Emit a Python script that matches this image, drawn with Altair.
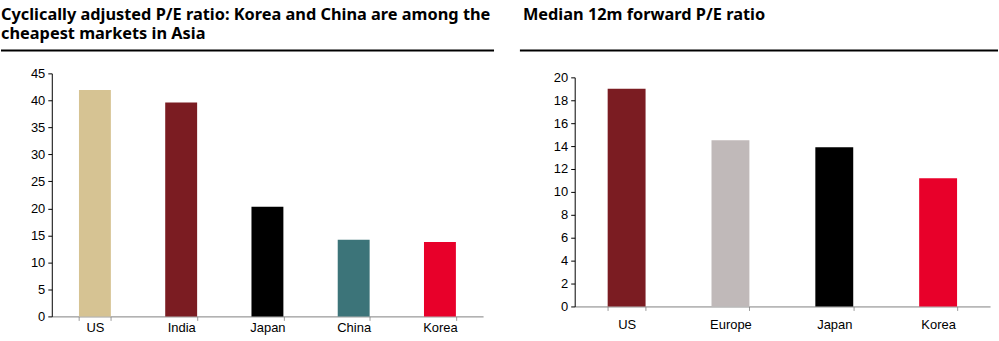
import altair as alt
import pandas as pd

left_cats = ["US", "India", "Japan", "China", "Korea"]
left_vals = [41.9, 39.6, 20.3, 14.2, 13.8]
left_colors = ["#D6C393", "#7B1C22", "#000000", "#3C7479", "#E8002A"]

right_cats = ["US", "Europe", "Japan", "Korea"]
right_vals = [19.0, 14.5, 13.9, 11.2]
right_colors = ["#7B1C22", "#C0B9B9", "#000000", "#E8002A"]

left_title = ["Cyclically adjusted P/E ratio: Korea and China are among the",
              "cheapest markets in Asia"]
right_title = ["Median 12m forward P/E ratio"]

TITLE_FONT = "Noto Sans"
AXIS_FONT = "Liberation Sans"


def panel(cats, vals, colors, title_lines, ymax, ystep, width, height, yrange,
          title_dx, rule_x, rule_x2, pad, xlabpad):
    df = pd.DataFrame({"cat": cats, "val": vals})
    xenc = alt.X("cat:N", sort=cats, title=None,
                 scale=alt.Scale(paddingInner=pad, paddingOuter=pad / 2),
                 axis=alt.Axis(labelAngle=0, tickBand="extent", domainColor="#808080",
                               tickColor="#9a9a9a", tickSize=4, labelFont=AXIS_FONT,
                               labelFontSize=13, labelColor="#000000", labelPadding=xlabpad,
                               domainWidth=1))
    yenc = alt.Y("val:Q", title=None,
                 scale=alt.Scale(domain=[0, ymax], nice=False, range=yrange),
                 axis=alt.Axis(values=list(range(0, ymax + 1, ystep)), grid=False,
                               domainColor="#000000", tickColor="#000000", tickSize=4,
                               labelFont=AXIS_FONT, labelFontSize=13,
                               labelColor="#000000", labelPadding=3))
    bars = alt.Chart(df).mark_bar().encode(
        x=xenc, y=yenc,
        color=alt.Color("cat:N", sort=cats,
                        scale=alt.Scale(domain=cats, range=colors), legend=None),
    )
    tdf = pd.DataFrame({"t": ["\n".join(title_lines)]})
    title = alt.Chart(tdf).mark_text(
        align="left", baseline="top", font=TITLE_FONT, fontSize=16.4,
        fontWeight="bold", color="#000000", lineBreak="\n", lineHeight=20,
    ).encode(text="t:N", x=alt.value(title_dx), y=alt.value(-67))
    rule = alt.Chart(tdf).mark_rule(color="#000000", strokeWidth=2).encode(
        x=alt.value(rule_x), x2=alt.value(rule_x2), y=alt.value(-23)
    )
    return alt.layer(bars, rule, title).properties(width=width, height=height)


left = panel(left_cats, left_vals, left_colors, left_title, 45, 5, 433, 244, [244, 0],
             -51, -51, 444, 0.63, 1)
right = panel(right_cats, right_vals, right_colors, right_title, 20, 2, 417, 234, [234, 4],
              -52, -55, 425, 0.635, 8)

chart = alt.hconcat(left, right, spacing=24).resolve_scale(color="independent").properties(
    padding={"left": 0, "top": 6, "right": 0, "bottom": 0},
    background="#ffffff",
).configure_view(stroke=None)

chart.save("out.html", embed_options={"renderer": "svg", "actions": False})
